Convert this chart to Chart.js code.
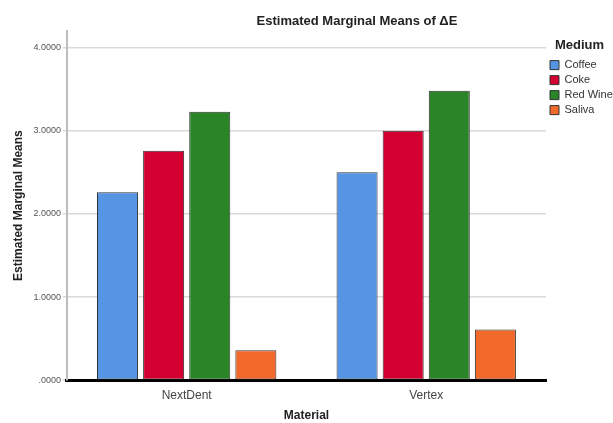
<!DOCTYPE html>
<html lang="en">
<head>
  <meta charset="UTF-8">
  <title>Estimated Marginal Means of ΔE</title>
  <script src="https://cdn.jsdelivr.net/npm/chart.js"></script>
  <style>
    body { margin: 0; background: #fff; }
    #wrap { width: 613px; height: 423px; }
  </style>
</head>
<body>
  <div id="wrap"><canvas id="emmChart"></canvas></div>

  <script>
    const chartTitle = 'Estimated Marginal Means of ΔE';
    const materials = ['NextDent', 'Vertex'];
    const media = ['Coffee', 'Coke', 'Red Wine', 'Saliva'];

    const coffee = [2.26, 2.50];
    const coke = [2.76, 3.00];
    const redWine = [3.23, 3.48];
    const saliva = [0.36, 0.61];

    const yTicks = [0, 1, 2, 3, 4];
    const yTickLabels = ['.0000', '1.0000', '2.0000', '3.0000', '4.0000'];

    const colors = ['#5595e4', '#d50032', '#2a8529', '#f26a2b'];
    const seriesValues = [coffee, coke, redWine, saliva];

    const datasets = media.map((name, i) => ({
      label: name,
      data: seriesValues[i],
      backgroundColor: colors[i],
      borderColor: '#333',
      borderWidth: 1,
      borderSkipped: false,
      barPercentage: 0.89,
      categoryPercentage: 0.77
    }));

    Chart.defaults.font.family = '"Liberation Sans", Arial, sans-serif';

    // SPSS puts the title a bit right of centre, so draw it by hand
    const spssTitle = {
      id: 'spssTitle',
      afterDraw(chart) {
        const ctx = chart.ctx;
        ctx.save();
        ctx.font = 'bold 13px "Liberation Sans", Arial, sans-serif';
        ctx.fillStyle = '#222';
        ctx.textAlign = 'center';
        ctx.textBaseline = 'middle';
        ctx.fillText(chartTitle, 357, 21);
        ctx.restore();
      }
    };

    new Chart(document.getElementById('emmChart').getContext('2d'), {
      type: 'bar',
      data: { labels: materials, datasets },
      plugins: [spssTitle],
      options: {
        responsive: true,
        maintainAspectRatio: false,
        animation: false,
        layout: { padding: { top: 31, left: 7, right: 0, bottom: 0 } },
        scales: {
          x: {
            grid: { display: false },
            border: { display: true, color: '#000', width: 3 },
            ticks: { color: '#444', font: { size: 12 }, padding: 0 },
            title: { display: true, text: 'Material', color: '#222', font: { size: 12, weight: 'bold' }, padding: { top: 6, bottom: 0 } }
          },
          y: {
            min: 0,
            max: 4.2,
            afterBuildTicks: axis => {
              axis.ticks = yTicks.map(v => ({ value: v }));
            },
            grid: { color: '#d9d9d9', lineWidth: 1.5, tickLength: 4 },
            border: { display: true, color: '#bdbdbd', width: 2 },
            ticks: {
              color: '#555',
              font: { size: 9 },
              padding: 2,
              callback: v => yTickLabels[yTicks.indexOf(v)]
            },
            title: { display: true, text: 'Estimated Marginal Means', color: '#222', font: { size: 12, weight: 'bold' }, padding: { bottom: 6 } }
          }
        },
        plugins: {
          title: { display: false },
          legend: {
            position: 'right',
            align: 'start',
            maxWidth: 67,
            title: { display: true, text: 'Medium', color: '#222', font: { size: 13, weight: 'bold' }, padding: { top: 8, bottom: 1 } },
            labels: { boxWidth: 9, boxHeight: 9, padding: 4, color: '#333', font: { size: 11 } }
          },
          tooltip: { enabled: false }
        }
      }
    });
  </script>
</body>
</html>
